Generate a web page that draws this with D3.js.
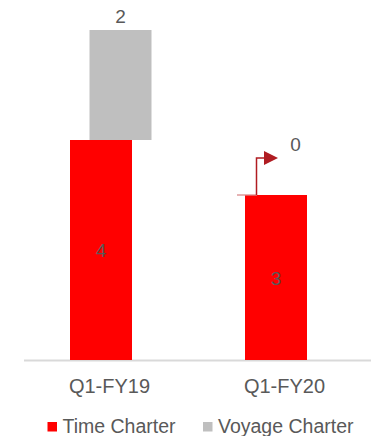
<!DOCTYPE html>
<html>
<head>
<meta charset="utf-8">
<script src="https://cdn.jsdelivr.net/npm/d3@7"></script>
<style>
  body { margin: 0; background: #fff; }
  text { font-family: "Liberation Sans", Arial, sans-serif; fill: #595959; }
</style>
</head>
<body>
<div id="chart"></div>
<script>
// data
var categories = ["Q1-FY19", "Q1-FY20"];
var timeCharter = [4, 3];
var voyageCharter = [2, 0];
var seriesNames = ["Time Charter", "Voyage Charter"];

var svgWidth = 371;
var svgHeight = 436;

var svg = d3.select("#chart")
  .append("svg")
  .attr("width", svgWidth)
  .attr("height", svgHeight);

var x = d3.scaleBand()
  .domain(categories)
  .range([22, 372]);

var y = d3.scaleLinear()
  .domain([0, 6])
  .range([360, 30]);

var barW = 62;
var redOff = -8.5;   // time charter bar sits left of the centre
var greyOff = 11;    // voyage charter bar sits right of the centre

var rows = categories.map((c, i) => ({ cat: c, tc: timeCharter[i], vc: voyageCharter[i] }));
var cx = d => x(d.cat) + x.bandwidth() / 2;

// axis line
svg.append("line")
  .attr("x1", 24).attr("x2", svgWidth)
  .attr("y1", y(0) + 0.5).attr("y2", y(0) + 0.5)
  .attr("stroke", "#d9d9d9")
  .attr("stroke-width", 2);

// time charter bars
svg.selectAll(".tc")
  .data(rows)
  .enter()
  .append("rect")
  .attr("class", "tc")
  .attr("x", d => cx(d) + redOff - barW / 2)
  .attr("y", d => y(d.tc))
  .attr("width", barW)
  .attr("height", d => y(0) - y(d.tc))
  .attr("fill", "#ff0000");

// voyage charter bars, stacked on top
svg.selectAll(".vc")
  .data(rows.filter(d => d.vc > 0))
  .enter()
  .append("rect")
  .attr("class", "vc")
  .attr("x", d => cx(d) + greyOff - barW / 2)
  .attr("y", d => y(d.tc + d.vc))
  .attr("width", barW)
  .attr("height", d => y(d.tc) - y(d.tc + d.vc))
  .attr("fill", "#bfbfbf");

// value labels inside red bars
svg.selectAll(".tcLabel")
  .data(rows)
  .enter()
  .append("text")
  .attr("x", d => cx(d) + redOff)
  .attr("y", d => (y(0) + y(d.tc)) / 2 + 7)
  .attr("text-anchor", "middle")
  .style("font-size", "19px")
  .text(d => d.tc);

// value labels above grey bars
svg.selectAll(".vcLabel")
  .data(rows)
  .enter()
  .append("text")
  .attr("x", d => cx(d) + greyOff)
  .attr("y", d => d.vc > 0 ? y(d.tc + d.vc) - 7 : y(d.tc) - 44)
  .attr("text-anchor", "middle")
  .style("font-size", "19px")
  .text(d => d.vc);

// flag marker for the zero voyage value
rows.filter(d => d.vc === 0).forEach(function(d) {
  var top = y(d.tc);
  var x0 = cx(d) + redOff - barW / 2;
  svg.append("line")
    .attr("x1", x0 - 8).attr("x2", x0 + 12)
    .attr("y1", top).attr("y2", top)
    .attr("stroke", "#d88a8c").attr("stroke-width", 1.3);
  svg.append("path")
    .attr("d", `M${x0 + 11.5},${top} V${top - 37} H${x0 + 20}`)
    .attr("fill", "none")
    .attr("stroke", "#b01c22")
    .attr("stroke-width", 1.5);
  svg.append("path")
    .attr("d", `M${x0 + 19},${top - 44} L${x0 + 33},${top - 37} L${x0 + 19},${top - 30} Z`)
    .attr("fill", "#b01c22");
});

// category labels
svg.selectAll(".catLabel")
  .data(categories)
  .enter()
  .append("text")
  .attr("x", d => x(d) + x.bandwidth() / 2)
  .attr("y", 393)
  .attr("text-anchor", "middle")
  .style("font-size", "20px")
  .text(d => d);

// legend
var legendColors = ["#ff0000", "#bfbfbf"];
var legendX = [47.5, 203];
var legend = svg.selectAll(".legend")
  .data(seriesNames)
  .enter()
  .append("g")
  .attr("transform", (d, i) => `translate(${legendX[i]}, 422)`);

legend.append("rect")
  .attr("width", 9.5)
  .attr("height", 9.5)
  .attr("fill", (d, i) => legendColors[i]);

legend.append("text")
  .attr("x", 15)
  .attr("y", 11)
  .style("font-size", "19.5px")
  .text(d => d);
</script>
</body>
</html>
